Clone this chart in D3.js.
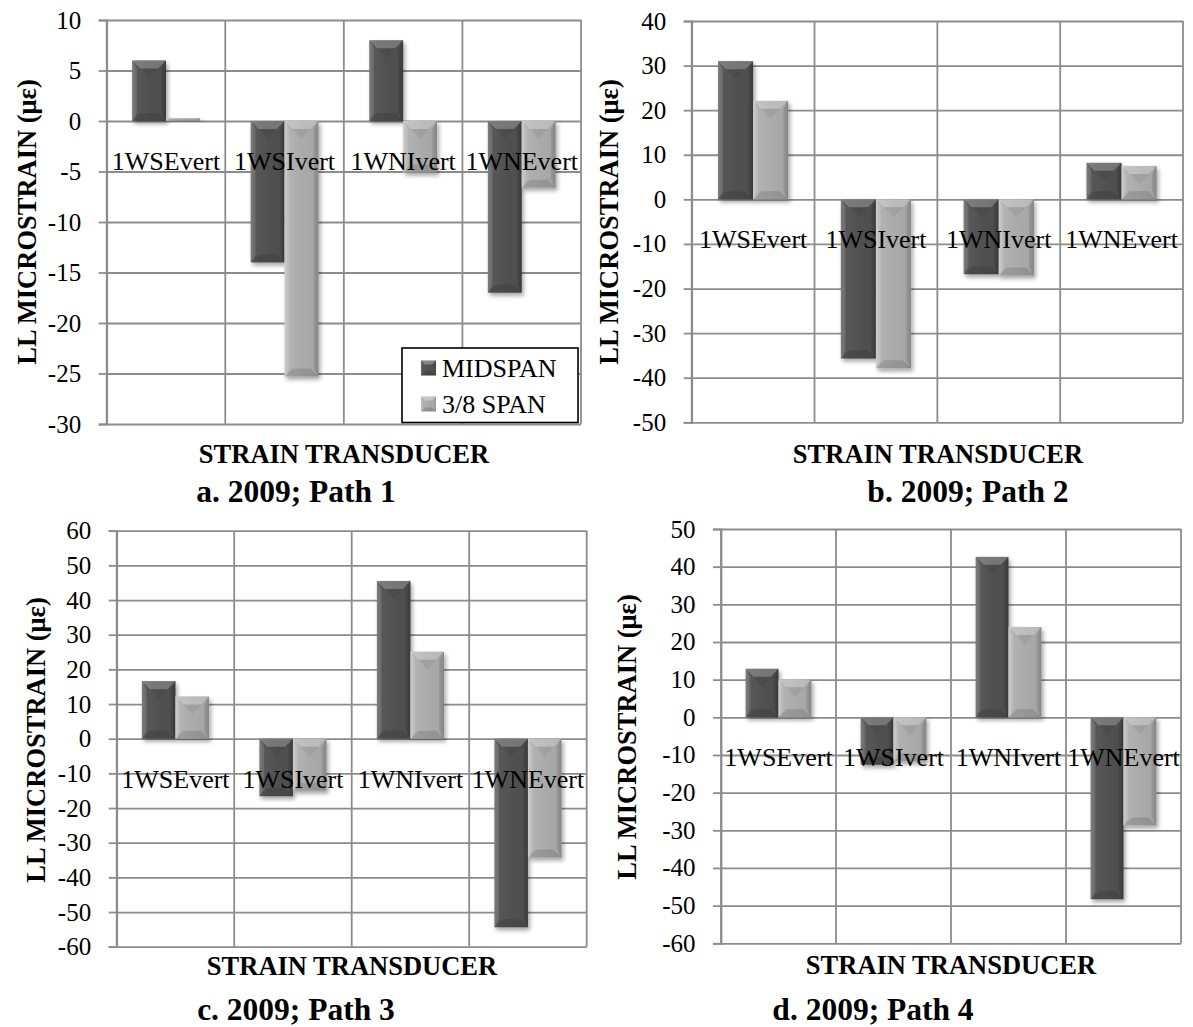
<!DOCTYPE html>
<html><head><meta charset="utf-8">
<script src="https://cdn.jsdelivr.net/npm/d3@7"></script>
<style>body{margin:0;background:#fff}svg{display:block}</style>
</head><body>
<script>
// ---- data ----
const categories = ["1WSEvert", "1WSIvert", "1WNIvert", "1WNEvert"];
const seriesNames = ["MIDSPAN", "3/8 SPAN"];

const path1Midspan = [6, -14, 8, -17];
const path1ThreeEighths = [0.3, -25.3, -5.1, -6.6];
const path2Midspan = [31, -35.7, -16.8, 8.2];
const path2ThreeEighths = [22.1, -37.9, -17.1, 7.5];
const path3Midspan = [16.6, -16.6, 45.5, -54.4];
const path3ThreeEighths = [12.2, -15, 25.1, -34.3];
const path4Midspan = [12.9, -12.6, 42.6, -48.3];
const path4ThreeEighths = [10.1, -11.7, 24, -28.7];

const ticks1 = [10, 5, 0, -5, -10, -15, -20, -25, -30];
const ticks2 = [40, 30, 20, 10, 0, -10, -20, -30, -40, -50];
const ticks3 = [60, 50, 40, 30, 20, 10, 0, -10, -20, -30, -40, -50, -60];
const ticks4 = [50, 40, 30, 20, 10, 0, -10, -20, -30, -40, -50, -60];

const captions = ["a. 2009; Path 1", "b. 2009; Path 2", "c. 2009; Path 3", "d. 2009; Path 4"];
const xAxisTitle = "STRAIN TRANSDUCER";
const yAxisTitle = "LL MICROSTRAIN (με)";

// ---- layout ----
const panels = [
  {mid: path1Midspan, span: path1ThreeEighths, ticks: ticks1, x0: 106.7, x1: 581, y0: 20, y1: 424,
   yT: [27, 222], xT: [344, 463], cap: [296, 502], legend: true},
  {mid: path2Midspan, span: path2ThreeEighths, ticks: ticks2, x0: 691.7, x1: 1183, y0: 21, y1: 422.3,
   yT: [609, 222], xT: [938, 463], cap: [968, 502], legend: false},
  {mid: path3Midspan, span: path3ThreeEighths, ticks: ticks3, x0: 116.7, x1: 586.7, y0: 530.7, y1: 946.7,
   yT: [36, 740], xT: [352, 975], cap: [296, 1020], legend: false},
  {mid: path4Midspan, span: path4ThreeEighths, ticks: ticks4, x0: 721, x1: 1181, y0: 529, y1: 943.3,
   yT: [627, 737], xT: [951, 974], cap: [873, 1020], legend: false}
];

const FONT = "'Liberation Serif','Times New Roman',serif";
const GRID = "#8c8c8c";

const svg = d3.select("body").append("svg").attr("width", 1193).attr("height", 1027)
  .style("font-family", FONT);

const defs = svg.append("defs");
function hGrad(id, stops) {
  const g = defs.append("linearGradient").attr("id", id).attr("x1", 0).attr("x2", 1).attr("y1", 0).attr("y2", 0);
  stops.forEach(([o, c]) => g.append("stop").attr("offset", o).attr("stop-color", c));
}
hGrad("gMid", [[0, "#6a6a6a"], [0.12, "#575757"], [0.5, "#515151"], [0.88, "#4f4f4f"], [1, "#424242"]]);
hGrad("gSpan", [[0, "#c6c6c6"], [0.12, "#b2b2b2"], [0.5, "#ababab"], [0.88, "#a6a6a6"], [1, "#959595"]]);
const sh = defs.append("filter").attr("id", "shadow").attr("x", "-20%").attr("y", "-20%").attr("width", "150%").attr("height", "150%");
sh.append("feDropShadow").attr("dx", 2).attr("dy", 3).attr("stdDeviation", 2.2)
  .attr("flood-color", "#000").attr("flood-opacity", 0.35);

const fills = ["url(#gMid)", "url(#gSpan)"];

function drawBar(g, x, yTop, w, h, fill) {
  const bar = g.append("g").attr("filter", "url(#shadow)");
  bar.append("rect").attr("x", x).attr("y", yTop).attr("width", w).attr("height", Math.max(h, 0.8)).attr("fill", fill);
  const b = Math.min(8, h / 2);
  if (h > 2) {
    bar.append("path").attr("d", `M${x},${yTop}L${x + w},${yTop}L${x + w - b},${yTop + b}L${x + b},${yTop + b}Z`)
      .attr("fill", "#fff").attr("opacity", 0.22);
    bar.append("path").attr("d", `M${x + b},${yTop + b}L${x + w / 2},${yTop + b + Math.min(10, h / 3)}L${x + w - b},${yTop + b}Z`)
      .attr("fill", "#000").attr("opacity", 0.06);
    const yb = yTop + h;
    bar.append("path").attr("d", `M${x},${yb}L${x + w},${yb}L${x + w - b},${yb - b}L${x + b},${yb - b}Z`)
      .attr("fill", "#000").attr("opacity", 0.12);
    bar.append("path").attr("d", `M${x},${yTop}L${x + b * 0.6},${yTop + b}L${x + b * 0.6},${yb - b}L${x},${yb}Z`)
      .attr("fill", "#fff").attr("opacity", 0.12);
    bar.append("path").attr("d", `M${x + w},${yTop}L${x + w - b * 0.6},${yTop + b}L${x + w - b * 0.6},${yb - b}L${x + w},${yb}Z`)
      .attr("fill", "#000").attr("opacity", 0.1);
  }
}

panels.forEach((p, pi) => {
  const g = svg.append("g");
  const dom = d3.extent(p.ticks);
  const y = d3.scaleLinear().domain(dom).range([p.y1, p.y0]);
  const pin = 1.5 / 3.5, po = 0.75 / 3.5;
  const x = d3.scaleBand().domain(categories).range([p.x0, p.x1]).paddingInner(pin).paddingOuter(po);
  const xs = d3.scaleBand().domain(seriesNames).range([0, x.bandwidth()]);
  const step = x.step();

  const grid = g.append("g").attr("transform", `translate(${p.x0},0)`)
    .call(d3.axisLeft(y).tickValues(p.ticks).tickSize(-(p.x1 - p.x0)).tickFormat(""));
  grid.select(".domain").remove();
  grid.selectAll("line").attr("stroke", GRID).attr("stroke-width", 1.8);

  const bounds = categories.map(c => x(c) - step * po).concat([p.x1]);
  g.selectAll(".vg").data(bounds).join("line")
    .attr("x1", d => d).attr("x2", d => d).attr("y1", p.y0).attr("y2", p.y1)
    .attr("stroke", GRID).attr("stroke-width", 1.8);

  const ax = g.append("g").attr("transform", `translate(${p.x0},0)`)
    .call(d3.axisLeft(y).tickValues(p.ticks).tickSize(8).tickPadding(17.5).tickFormat(d3.format("d")));
  ax.select(".domain").attr("stroke", GRID).attr("stroke-width", 1.8);
  ax.selectAll(".tick line").attr("stroke", GRID).attr("stroke-width", 1.8);
  ax.selectAll(".tick text").attr("fill", "#000").style("font-size", "25px").style("font-family", FONT)
    .text(d => d < 0 ? "-" + Math.abs(d) : d);

  const series = [p.mid, p.span];
  series.forEach((vals, si) => {
    vals.forEach((v, ci) => {
      const bx = x(categories[ci]) + xs(seriesNames[si]);
      const yt = y(Math.max(v, 0)), yb = y(Math.min(v, 0));
      drawBar(g, bx, yt, xs.bandwidth(), yb - yt, fills[si]);
    });
  });

  g.selectAll(".cl").data(categories).join("text")
    .attr("x", d => x(d) + x.bandwidth() / 2).attr("y", y(0) + 49)
    .attr("text-anchor", "middle").style("font-size", "26px").attr("fill", "#000").text(d => d);

  g.append("text").attr("transform", `translate(${p.yT[0]},${p.yT[1]}) rotate(-90)`)
    .attr("text-anchor", "middle").attr("dy", "0.35em").style("font-size", "26.5px").style("font-weight", "bold")
    .text(yAxisTitle);
  g.append("text").attr("x", p.xT[0]).attr("y", p.xT[1]).attr("text-anchor", "middle")
    .style("font-size", "26.5px").style("font-weight", "bold").text(xAxisTitle);
  g.append("text").attr("x", p.cap[0]).attr("y", p.cap[1]).attr("text-anchor", "middle")
    .style("font-size", "31.5px").style("font-weight", "bold").text(captions[pi]);

  if (p.legend) {
    const lg = g.append("g");
    lg.append("rect").attr("x", 402).attr("y", 348).attr("width", 176).attr("height", 74.5)
      .attr("fill", "#fff").attr("stroke", "#000").attr("stroke-width", 1.6);
    seriesNames.forEach((s, si) => {
      const cy = si === 0 ? 368 : 404;
      const ic = lg.append("g");
      ic.append("rect").attr("x", 421).attr("y", cy - 7.5).attr("width", 15).attr("height", 15).attr("fill", fills[si]);
      ic.append("path").attr("d", `M421,${cy - 7.5}L436,${cy - 7.5}L432,${cy - 3.5}L425,${cy - 3.5}Z`).attr("fill", "#fff").attr("opacity", 0.3);
      ic.append("path").attr("d", `M421,${cy + 7.5}L436,${cy + 7.5}L432,${cy + 3.5}L425,${cy + 3.5}Z`).attr("fill", "#000").attr("opacity", 0.15);
      lg.append("text").attr("x", 442).attr("y", cy + 9).style("font-size", "26px").attr("fill", "#000").text(s);
    });
  }
});
</script>
</body></html>
